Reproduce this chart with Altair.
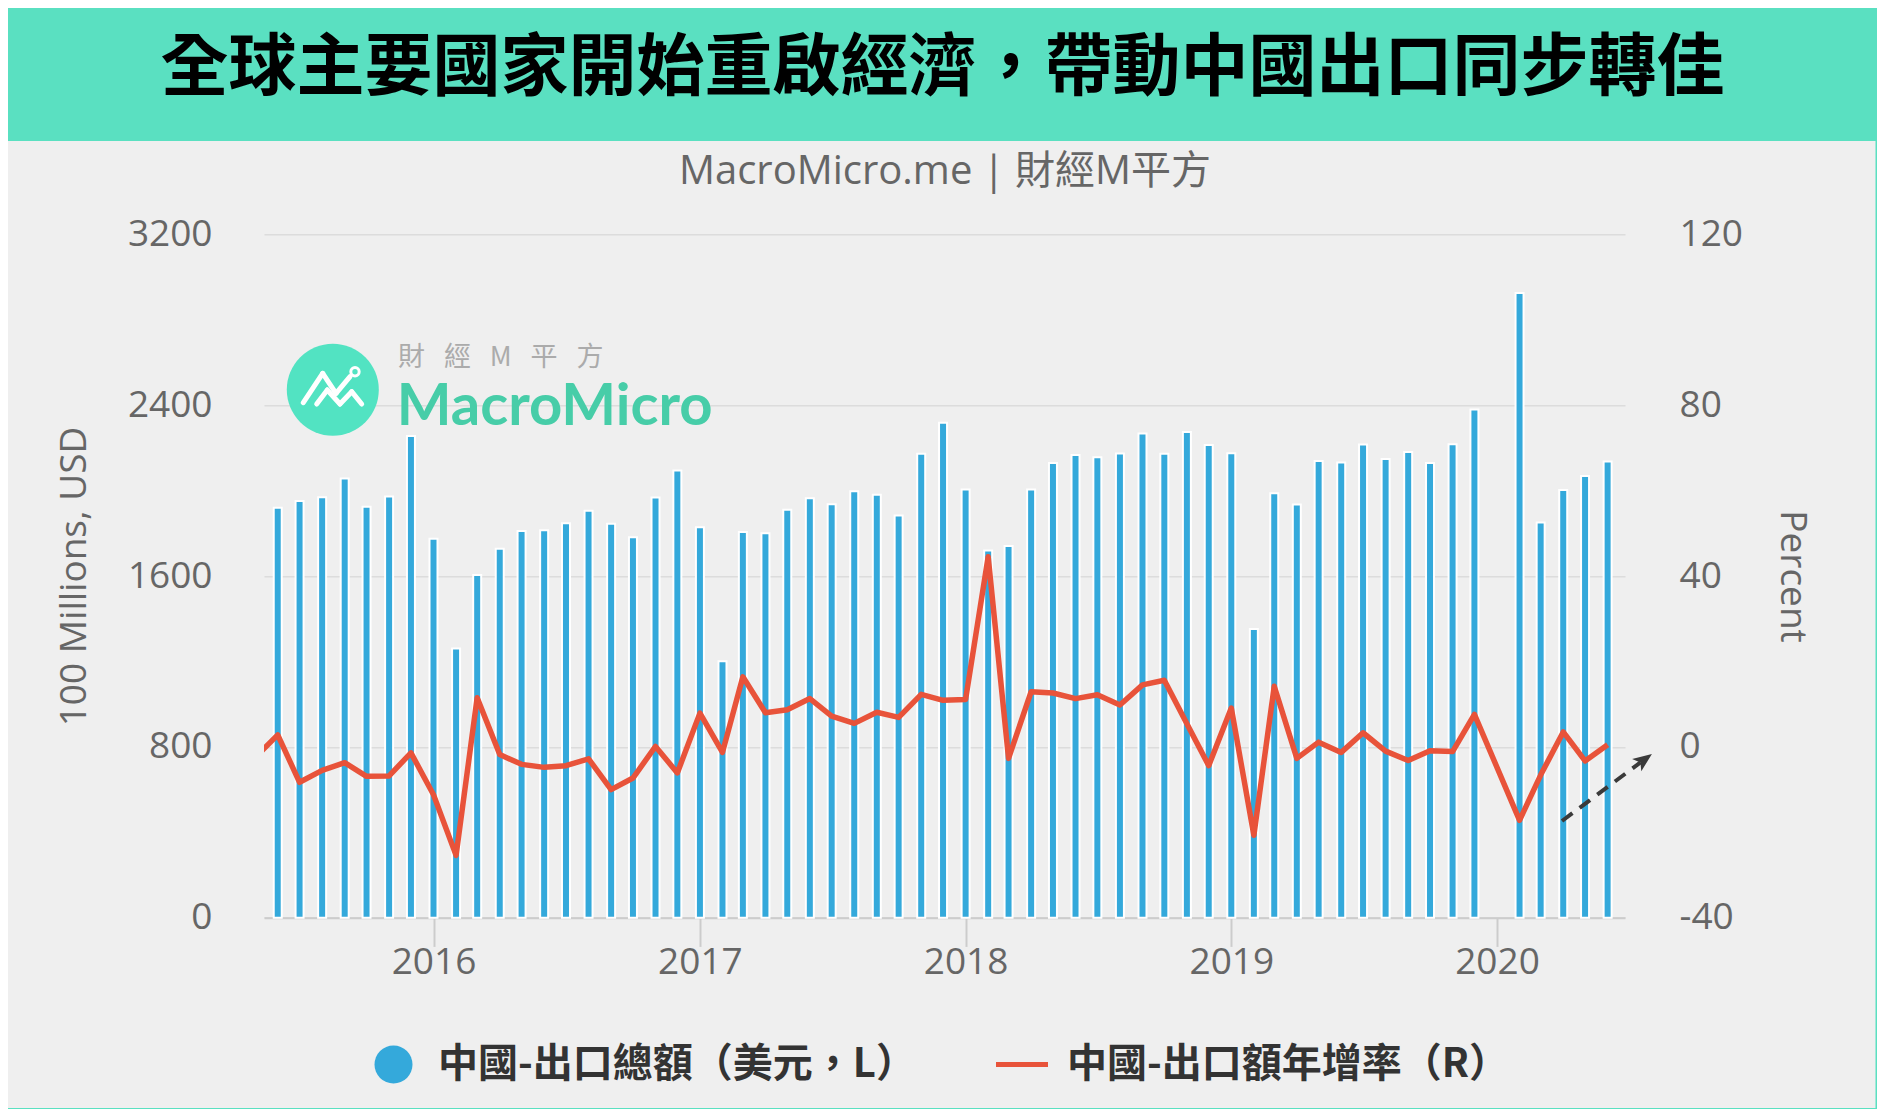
import altair as alt
import pandas as pd

# ---------------- data ----------------
# China monthly exports, 100 millions USD (Jan+Feb 2020 reported together in Feb)
export_values = [1920, 1951, 1969, 2056, 1924, 1972, 2256,
                 1775, 1261, 1605, 1728, 1811, 1814, 1847, 1906, 1845, 1782, 1968, 2094,
                 1828, 1201, 1806, 1800, 1910, 1964, 1936, 1997, 1981, 1883, 2173, 2318,
                 2005, 1719, 1740, 2005, 2129, 2167, 2156, 2174, 2267, 2173, 2274, 2213,
                 2175, 1352, 1987, 1935, 2138, 2132, 2216, 2148, 2181, 2129, 2217, 2380,
                 2925, 1851, 2003, 2068, 2136]
# China exports YoY, percent (first value May 2015, clipped at the plot edge)
yoy_values = [-2.5, 2.8, -8.3, -5.5, -3.7, -6.9, -6.8, -1.4,
              -11.2, -25.4, 11.5, -1.8, -4.1, -4.8, -4.4, -2.8, -10.0, -7.3, 0.1, -6.1,
              7.9, -1.3, 16.4, 8.0, 8.7, 11.3, 7.2, 5.5, 8.1, 6.9, 12.3, 10.9,
              11.1, 44.5, -2.7, 12.9, 12.6, 11.3, 12.2, 9.8, 14.5, 15.6, 5.4, -4.4,
              9.1, -20.7, 14.2, -2.7, 1.1, -1.3, 3.3, -1.0, -3.2, -0.9, -1.1, 7.6,
              -17.2, -6.6, 3.5, -3.3, 0.5]

all_months = [f"{y}-{m:02d}" for y in range(2015, 2021) for m in range(1, 13)]
yoy_months = [ym for ym in all_months if "2015-05" <= ym <= "2020-06" and ym != "2020-01"]
export_months = yoy_months[1:]

left_ticks = [0, 800, 1600, 2400, 3200]
right_ticks = [-40, 0, 40, 80, 120]
year_ticks = [2016, 2017, 2018, 2019, 2020]

title_text = "全球主要國家開始重啟經濟，帶動中國出口同步轉佳"
subtitle_text = "MacroMicro.me | 財經M平方"
legend_labels = ["中國-出口總額（美元，L）", "中國-出口額年增率（R）"]
left_title = "100 Millions, USD"
right_title = "Percent"
logo_chars = "\u2002\u2009".join(["財", "經", "M", "平", "方"])
logo_word = "MacroMicro"

df_exp = pd.DataFrame({"date": [f"{m}-01T00:00:00" for m in export_months], "exports": export_values})
df_yoy = pd.DataFrame({"date": [f"{m}-01T00:00:00" for m in yoy_months], "yoy": yoy_values})
one = pd.DataFrame({"k": [0]})

# ---------------- style ----------------
BLUE = "#34A9DB"
RED = "#E8533A"
TEAL = "#5AE0C1"
LOGO_TEAL = "#52E3C2"
LOGO_TEXT = "#47CDA8"
GREY_TXT = "#666666"
CJK = "Noto Sans CJK TC"
LAT = "Open Sans"

W, H = 1361, 683.4
PAD = {"left": 256, "top": 226.3, "right": 252, "bottom": 191.3}

x_enc = alt.X(
    "date:T",
    scale=alt.Scale(domain=[alt.DateTime(year=2015, month=5, date=20),
                            alt.DateTime(year=2020, month=6, date=18)]),
    axis=alt.Axis(values=[alt.DateTime(year=y, month=1, date=1) for y in year_ticks],
                  format="%Y", title=None, grid=False, ticks=True, tickSize=28.7,
                  tickColor="#cccccc", tickWidth=2, domainColor="#cccccc", domainWidth=2,
                  labelFontSize=37, labelColor=GREY_TXT, labelFont=LAT,
                  labelBaseline="middle", labelPadding=16, labelFlush=False),
)

bars = alt.Chart(df_exp).mark_bar(width=8, color=BLUE, stroke="white", strokeWidth=2).encode(
    x=x_enc,
    y=alt.Y("exports:Q",
            scale=alt.Scale(domain=[0, 3200], nice=False, zero=True),
            axis=alt.Axis(values=left_ticks, title=left_title, grid=True, gridColor="#dcdcdc",
                          gridWidth=1.5, ticks=False, tickSize=0, domain=False,
                          labelExpr="'' + datum.value",
                          labelFontSize=37, labelColor=GREY_TXT, labelFont=LAT, labelPadding=52,
                          titleFontSize=37, titleColor=GREY_TXT, titleFont=LAT,
                          titleFontWeight="normal", titleAngle=270, titleX=-189.5, titleY=H / 2,
                          titleAlign="center", titleBaseline="middle")),
)

line = alt.Chart(df_yoy).mark_line(color=RED, strokeWidth=5.5, clip=True, strokeJoin="round").encode(
    x=x_enc,
    y=alt.Y("yoy:Q",
            scale=alt.Scale(domain=[-40, 120], nice=False, zero=False),
            axis=alt.Axis(orient="right", values=right_ticks, title=right_title, grid=False,
                          ticks=False, tickSize=0, domain=False,
                          labelExpr="'' + datum.value",
                          labelFontSize=37, labelColor=GREY_TXT, labelFont=LAT, labelPadding=54,
                          titleFontSize=37, titleColor=GREY_TXT, titleFont=LAT,
                          titleFontWeight="normal", titleAngle=90, titleX=166, titleY=H / 2,
                          titleAlign="center", titleBaseline="middle")),
)

data_layer = alt.layer(bars, line).resolve_scale(y="independent")


def rect(x, x2, y, y2, color):
    return alt.Chart(one).mark_rect(color=color).encode(
        x=alt.value(x), x2=alt.value(x2), y=alt.value(y), y2=alt.value(y2))


def text(t, x, y, size, color, font, weight="normal", align="center", baseline="middle"):
    return alt.Chart(one).mark_text(text=t, font=font, fontSize=size, fontWeight=weight,
                                    color=color, align=align, baseline=baseline).encode(
        x=alt.value(x), y=alt.value(y))


def seg(x, y, x2, y2, color, width, dash=None, cap="round"):
    kw = dict(color=color, strokeWidth=width, strokeCap=cap)
    if dash:
        kw["strokeDash"] = dash
    return alt.Chart(one).mark_rule(**kw).encode(
        x=alt.value(x), y=alt.value(y), x2=alt.value(x2), y2=alt.value(y2))


def dot(x, y, size, color, filled=True, stroke_w=0, shape="circle", angle=0):
    kw = dict(shape=shape, size=size, opacity=1, angle=angle)
    if filled:
        kw.update(filled=True, color=color)
    else:
        kw.update(filled=False, color=color, strokeWidth=stroke_w)
    return alt.Chart(one).mark_point(**kw).encode(x=alt.value(x), y=alt.value(y))


L, T = PAD["left"], PAD["top"]
decor_back = [
    rect(-L - 10, W + PAD["right"] + 10, -T - 10, -93.3, TEAL),        # title band
    rect(1611.5, W + PAD["right"] + 10, -T - 10, H + PAD["bottom"] + 10, TEAL),  # right border
    rect(-L - 10, W + PAD["right"] + 10, 873.7, H + PAD["bottom"] + 10, TEAL),   # bottom border
    text(title_text, 678.5, -164.3, 68, "#000000", CJK, weight="bold"),
    text(subtitle_text, 681, -62.3, 40, GREY_TXT, f"{LAT}, {CJK}"),
    # watermark logo
    dot(68.8, 155.4, 92 * 92, LOGO_TEAL),
    seg(39.3, 168.4, 58.7, 139.0, "white", 5),
    seg(58.7, 139.0, 72.0, 159.0, "white", 5),
    seg(72.0, 159.0, 86.0, 142.4, "white", 5),
    seg(52.7, 169.7, 63.3, 155.7, "white", 5),
    seg(63.3, 155.7, 76.0, 169.7, "white", 5),
    seg(76.0, 169.7, 87.7, 157.4, "white", 5),
    seg(87.7, 157.4, 97.7, 169.7, "white", 5),
    dot(91.0, 137.4, 70, "white", filled=False, stroke_w=3),
    text(logo_word, 132.7, 191, 58, LOGO_TEXT, "Lato", weight="bold", align="left",
         baseline="alphabetic"),
    text(logo_chars, 134, 124, 27, "#ababab", CJK, align="left"),
]

decor_front = [
    # dashed arrow annotation
    seg(1298, 586.7, 1376.5, 528.1, "#3a3a3a", 4, dash=[13, 9], cap="butt"),
    dot(1379.7, 525.7, 420, "#3a3a3a", shape="M0,-1L0.75,0.85L0,0.4L-0.75,0.85Z", angle=53.3),
    # legend
    dot(129.5, 830.2, 38 * 38, BLUE),
    text(legend_labels[0], 174, 830.2, 40, "#333333", CJK, weight="bold", align="left"),
    seg(732, 830.2, 784, 830.2, RED, 5, cap="butt"),
    text(legend_labels[1], 803, 830.2, 40, "#333333", CJK, weight="bold", align="left"),
]

chart = alt.layer(*decor_back, data_layer, *decor_front).properties(
    width=W, height=H,
    autosize=alt.AutoSizeParams(type="none"),
    padding=PAD,
).configure(background="#efefef").configure_view(strokeWidth=0)

chart.save("out.html", embed_options={"renderer": "svg", "actions": False})
